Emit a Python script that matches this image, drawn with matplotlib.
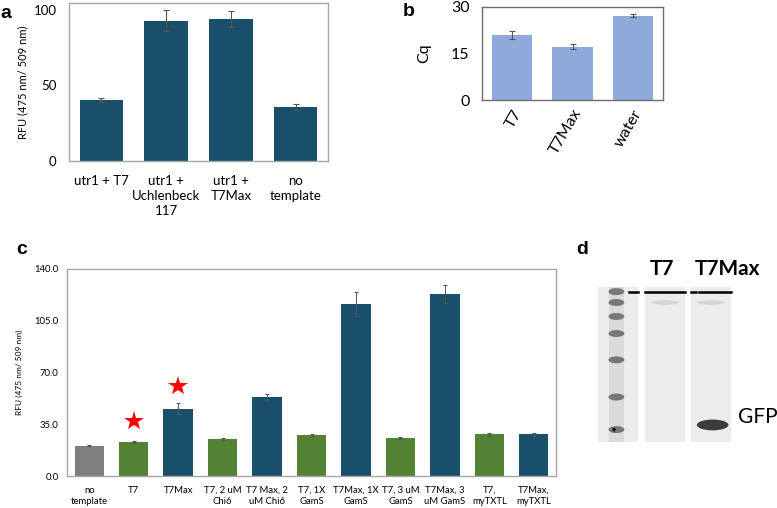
import matplotlib
matplotlib.use("Agg")
import matplotlib.pyplot as plt
from matplotlib.patches import Rectangle, Ellipse

plt.rcParams['font.family'] = ['Lato', 'DejaVu Sans']

# panel a
a_labels = ["utr1 + T7", "utr1 +\nUchlenbeck\n117", "utr1 +\nT7Max", "no\ntemplate"]
a_values = [40.3, 93.0, 94.0, 36.0]
a_err = [1.5, 7.0, 5.0, 2.0]

# panel b
b_labels = ["T7", "T7Max", "water"]
b_values = [20.9, 17.2, 27.2]
b_err = [1.2, 0.8, 0.5]

# panel c
c_labels = ["no\ntemplate", "T7", "T7Max", "T7, 2 uM\nChi6", "T7 Max, 2\nuM Chi6",
            "T7, 1X\nGamS", "T7Max, 1X\nGamS", "T7, 3 uM\nGamS", "T7Max, 3\nuM GamS",
            "T7,\nmyTXTL", "T7Max,\nmyTXTL"]
c_values = [20.6, 23.1, 45.5, 25.1, 53.4, 27.6, 116.5, 25.8, 123.1, 28.3, 28.3]
c_err = [0.6, 0.5, 3.8, 0.8, 1.8, 0.5, 8.0, 0.6, 6.3, 1.0, 1.0]
c_group = ["none", "T7", "T7Max", "T7", "T7Max", "T7", "T7Max", "T7", "T7Max", "T7", "T7Max"]
star_idx = [1, 2]
star_y = [37.0, 61.0]

# panel d (gel, migration as fraction of lane length)
ladder_bands = [0.03, 0.10, 0.19, 0.30, 0.47, 0.71, 0.92]
faint_bands = [0.10, 0.10]
gfp_band = 0.89
gel_lanes = ["ladder", "T7", "T7Max"]

teal = "#1a4f6b"
green = "#548235"
colors = {"none": "#7f7f7f", "T7": green, "T7Max": teal}

fig = plt.figure(figsize=(7.77, 5.08), dpi=100)
W, H = 777.0, 508.0


def box(x0, y0, x1, y1):
    return [x0 / W, 1 - y1 / H, (x1 - x0) / W, (y1 - y0) / H]


def style(ax, spine_col):
    for s in ax.spines.values():
        s.set_color(spine_col)
        s.set_linewidth(1.0)
    ax.tick_params(length=0)


ek = dict(ecolor="#555555", elinewidth=0.8, capsize=2, capthick=0.8)

# ---- a
ax = fig.add_axes(box(69, 3, 328, 161))
xa = range(len(a_values))
ax.bar(xa, a_values, width=0.67, color=teal, yerr=a_err, error_kw=ek)
ax.set_xlim(-0.5, len(a_values) - 0.5)
ax.set_ylim(0, 104.6)
ax.set_yticks([0, 50, 100])
ax.set_xticks(list(xa))
ax.set_xticklabels(a_labels, fontsize=9.5, linespacing=1.3)
ax.tick_params(axis="y", labelsize=9.5, pad=9)
ax.tick_params(axis="x", pad=10)
ax.set_ylabel("RFU (475 nm/ 509 nm)", fontsize=8, labelpad=4)
style(ax, "#a6a6a6")

# ---- b
ax = fig.add_axes(box(482, 7, 663, 100))
xb = range(len(b_values))
ax.bar(xb, b_values, width=0.67, color="#8eaadb", yerr=b_err, error_kw=ek)
ax.set_xlim(-0.5, len(b_values) - 0.5)
ax.set_ylim(0, 30)
ax.set_yticks([0, 15, 30])
ax.set_xticks(list(xb))
ax.set_xticklabels(b_labels, fontsize=11.5, rotation=60, ha="right", rotation_mode="anchor")
ax.tick_params(axis="y", labelsize=11.5, pad=9)
ax.tick_params(axis="x", pad=5)
ax.set_ylabel("Cq", fontsize=11.5, labelpad=14)
style(ax, "#6e6e6e")

# ---- c
ax = fig.add_axes(box(67, 269, 556, 476))
xc = range(len(c_values))
ax.bar(xc, c_values, width=0.66, color=[colors[g] for g in c_group],
       yerr=c_err, error_kw=dict(ek, elinewidth=0.7, capsize=1.5))
ax.plot(star_idx, star_y, linestyle="none", marker="*", color="#ff0000",
        markersize=15, markeredgewidth=0)
ax.set_xlim(-0.5, len(c_values) - 0.5)
ax.set_ylim(0, 140)
ax.set_yticks([0, 35, 70, 105, 140])
ax.set_yticklabels(["%.1f" % v for v in [0, 35, 70, 105, 140]])
ax.set_xticks(list(xc))
ax.set_xticklabels(c_labels, fontsize=6.8, linespacing=1.3)
ax.tick_params(axis="y", labelsize=6.8, pad=6)
ax.tick_params(axis="x", pad=7)
ax.set_ylabel("RFU (475 nm/ 509 nm)", fontsize=6, labelpad=8)
style(ax, "#a6a6a6")

# ---- d
gx = fig.add_axes(box(595, 287, 734.5, 442))
gx.set_xlim(-0.5, len(gel_lanes) - 0.5)
gx.set_ylim(1, 0)
gx.axis("off")
lw = 0.86
for i, _ in enumerate(gel_lanes):
    gx.add_patch(Rectangle((i - lw / 2, 0), lw, 1, color="#ececec", lw=0))
# ladder smear + bands
gx.add_patch(Rectangle((-0.19, 0), 0.32, 1, color="#dadada", lw=0))
for yb in ladder_bands:
    gx.add_patch(Ellipse((-0.04, yb), 0.34, 0.045, color="#666666", lw=0, alpha=0.85))
gx.add_patch(Ellipse((-0.09, 0.92), 0.07, 0.025, color="#111111", lw=0))
for i, yb in zip([1, 2], faint_bands):
    gx.add_patch(Ellipse((i, yb), 0.6, 0.03, color="#d6d6d6", lw=0))
gx.add_patch(Ellipse((2.03, gfp_band), 0.68, 0.07, color="#3c3c3c", lw=0))
# well lines
gx.plot([0.24, 0.43], [0.035, 0.035], color="black", lw=1.8)
gx.plot([1 - lw / 2, 1 + lw / 2], [0.035, 0.035], color="black", lw=1.8)
gx.plot([2 - lw / 2, 2 - 0.32], [0.035, 0.035], color="black", lw=1.8)
gx.plot([2 - 0.26, 2 + lw / 2], [0.035, 0.035], color="black", lw=1.8)
gx.text(0.95, -0.115, "T7", fontsize=15, fontweight="bold", ha="center", va="center",
        clip_on=False)
gx.text(2.35, -0.115, "T7Max", fontsize=15, fontweight="bold", ha="center", va="center",
        clip_on=False)
gx.text(2.58, 0.84, "GFP", fontsize=15, ha="left", va="center", clip_on=False)

# panel letters
for lab, px, py in [("a", 6, 13), ("b", 409, 11), ("c", 22, 250), ("d", 582, 249)]:
    fig.text(px / W, 1 - py / H, lab, fontsize=14, fontweight="bold",
             family="Liberation Sans", ha="center", va="center")

fig.savefig("out.png", dpi=100)
